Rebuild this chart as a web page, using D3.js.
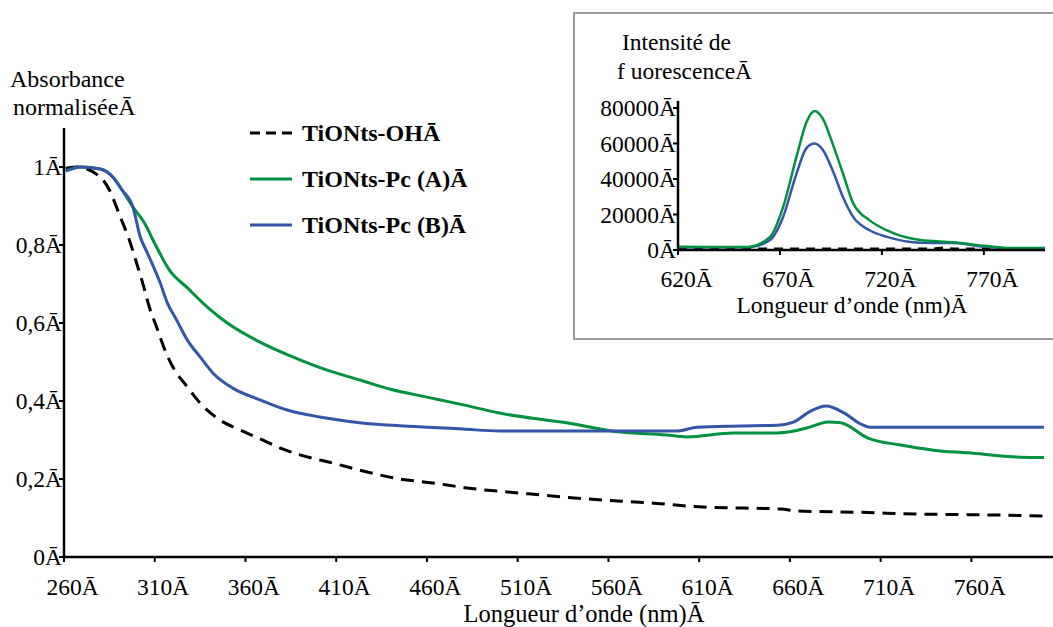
<!DOCTYPE html>
<html>
<head>
<meta charset="utf-8">
<script src="https://cdn.jsdelivr.net/npm/d3@7"></script>
<style>
  body { margin: 0; background: #fff; }
</style>
</head>
<body>
<svg width="1053" height="627"></svg>
<script>
// main chart: normalised absorbance
var xTicks = [260, 310, 360, 410, 460, 510, 560, 610, 660, 710, 760]
var yTicks = [0, 0.2, 0.4, 0.6, 0.8, 1]
var yTickLabels = ["0", "0,2", "0,4", "0,6", "0,8", "1"]

var ohNm  = [261, 267, 280, 285, 291, 296, 300, 304, 307, 311, 315, 320, 328, 335, 346, 357, 368, 380, 390, 408, 427, 445, 463, 482, 511, 548, 585, 612, 655, 664, 695, 732, 769, 800]
var ohAbs = [0.997, 1.0, 0.974, 0.941, 0.872, 0.813, 0.754, 0.692, 0.641, 0.59, 0.538, 0.487, 0.436, 0.395, 0.351, 0.326, 0.303, 0.278, 0.262, 0.241, 0.218, 0.2, 0.19, 0.177, 0.164, 0.149, 0.138, 0.128, 0.123, 0.118, 0.115, 0.11, 0.108, 0.105]

var pcANm  = [261, 269, 280, 287, 292, 298, 304, 311, 318, 328, 339, 350, 368, 386, 405, 423, 440, 460, 480, 500, 537, 565, 592, 603, 629, 653, 660, 671, 681, 688, 703, 721, 739, 758, 787, 800]
var pcAAbs = [0.99, 1.0, 0.995, 0.974, 0.941, 0.897, 0.859, 0.795, 0.736, 0.69, 0.641, 0.6, 0.551, 0.513, 0.479, 0.454, 0.43, 0.41, 0.39, 0.369, 0.344, 0.321, 0.313, 0.308, 0.318, 0.318, 0.321, 0.333, 0.346, 0.344, 0.305, 0.287, 0.274, 0.267, 0.256, 0.255]

var pcBNm  = [261, 269, 280, 287, 292, 298, 302, 306, 313, 317, 322, 328, 335, 342, 353, 368, 383, 401, 423, 460, 480, 500, 598, 609, 633, 653, 662, 671, 680, 690, 699, 704, 787, 800]
var pcBAbs = [0.99, 1.0, 0.995, 0.974, 0.941, 0.897, 0.821, 0.779, 0.703, 0.651, 0.608, 0.556, 0.513, 0.472, 0.433, 0.403, 0.377, 0.359, 0.344, 0.333, 0.328, 0.323, 0.323, 0.333, 0.336, 0.338, 0.346, 0.373, 0.387, 0.369, 0.341, 0.333, 0.333, 0.333]

var legendNames = ["TiONts-OH", "TiONts-Pc (A)", "TiONts-Pc (B)"]

// inset: fluorescence
var inXTicks = [620, 670, 720, 770]
var inYTicks = [0, 20000, 40000, 60000, 80000]
var flNm   = [620, 654, 665, 671.5, 678, 683, 687, 691, 696, 701, 706, 714, 722.5, 739, 755, 771.5, 783, 800]
var flA    = [1800, 1700, 7200, 24000, 52000, 72000, 78300, 74000, 59400, 42800, 26100, 16700, 11100, 5600, 4400, 2200, 1100, 1100]
var flB    = [1600, 1500, 5500, 18500, 42600, 57400, 60000, 56500, 44400, 29600, 18500, 11100, 7400, 4100, 3900, 1700, 1000, 1000]
var flOHNm = [620, 700, 745, 750, 755, 800]
var flOH   = [700, 700, 700, 1200, 700, 700]

var green = "#00923f", blue = "#3356a6"
var serif = "'Liberation Serif'"

var svg = d3.select("svg")

function label(g, xp, yp, size, str) {
    return g.append("text")
        .attr("x", xp).attr("y", yp)
        .style("font-family", serif)
        .style("font-size", size + "px")
        .text(str)
}

// ---------- main chart ----------
var x = d3.scaleLinear().domain([260, 805]).range([64, 1053])
var y = d3.scaleLinear().domain([0, 1]).range([557, 167])

var line = d3.line()
    .x(d => x(d[0]))
    .y(d => y(d[1]))
    .curve(d3.curveMonotoneX)

svg.append("path")
    .attr("d", line(d3.zip(ohNm, ohAbs)))
    .attr("fill", "none").attr("stroke", "#000").attr("stroke-width", 3)
    .attr("stroke-dasharray", "13,8")
svg.append("path")
    .attr("d", line(d3.zip(pcANm, pcAAbs)))
    .attr("fill", "none").attr("stroke", green).attr("stroke-width", 3)
svg.append("path")
    .attr("d", line(d3.zip(pcBNm, pcBAbs)))
    .attr("fill", "none").attr("stroke", blue).attr("stroke-width", 3)

// axes
svg.append("line")
    .attr("x1", x(260)).attr("x2", 1053)
    .attr("y1", y(0)).attr("y2", y(0))
    .attr("stroke", "#000").attr("stroke-width", 2.5)
svg.append("line")
    .attr("x1", x(260)).attr("x2", x(260))
    .attr("y1", y(1.1)).attr("y2", y(0))
    .attr("stroke", "#000").attr("stroke-width", 2.5)

// x ticks: number centred on tick, the stray glyph trailing
function numLabels(g, ticks, px, yPos, size) {
    ticks.forEach(function(t) {
        g.append("line")
            .attr("x1", px(t)).attr("x2", px(t))
            .attr("y1", yPos.axis).attr("y2", yPos.axis + 5)
            .attr("stroke", "#000").attr("stroke-width", 2)
        var txt = label(g, 0, yPos.label, size, null)
        var num = txt.append("tspan").text(t)
        txt.append("tspan").text("Ā")
        var w = num.node().getComputedTextLength()
        txt.attr("x", px(t) - w / 2)
    })
}
var gMain = svg.append("g")
numLabels(gMain, xTicks, x, {axis: y(0), label: 595}, 23.5)

yTicks.forEach(function(t, i) {
    gMain.append("line")
        .attr("x1", x(260) - 5).attr("x2", x(260))
        .attr("y1", y(t)).attr("y2", y(t))
        .attr("stroke", "#000").attr("stroke-width", 2)
    label(gMain, 62, y(t) + 8, 23.5, yTickLabels[i] + "Ā")
        .attr("text-anchor", "end")
})

label(svg, 10, 87, 24, "Absorbance")
label(svg, 13, 115, 24, "normaliséeĀ")
label(svg, 584, 622, 24.5, "Longueur d’onde (nm)Ā").attr("text-anchor", "middle")

// legend
var legend = svg.selectAll(".legend")
    .data(legendNames)
    .enter().append("g")
    .attr("class", "legend")
    .attr("transform", (d, i) => "translate(250," + (133 + i * 46) + ")")
legend.append("line")
    .attr("x1", 0).attr("x2", 42)
    .attr("stroke", (d, i) => ["#000", green, blue][i])
    .attr("stroke-width", 3)
    .attr("stroke-dasharray", (d, i) => i == 0 ? "10,6" : null)
legend.append("text")
    .attr("x", 52).attr("y", 8)
    .style("font-family", serif)
    .style("font-size", "24px")
    .style("font-weight", "bold")
    .text(d => d + "Ā")

// ---------- inset ----------
svg.append("rect")
    .attr("x", 574).attr("y", 13)
    .attr("width", 482).attr("height", 326)
    .attr("fill", "#fff").attr("stroke", "#9a9a9a").attr("stroke-width", 2)

var ix = d3.scaleLinear().domain([620, 800]).range([678, 1045])
var iy = d3.scaleLinear().domain([0, 80000]).range([250, 108])

var iline = d3.line()
    .x(d => ix(d[0]))
    .y(d => iy(d[1]))
    .curve(d3.curveMonotoneX)

svg.append("path")
    .attr("d", iline(d3.zip(flOHNm, flOH)))
    .attr("fill", "none").attr("stroke", "#000").attr("stroke-width", 2.5)
    .attr("stroke-dasharray", "9,7")
svg.append("path")
    .attr("d", iline(d3.zip(flNm, flB)))
    .attr("fill", "none").attr("stroke", blue).attr("stroke-width", 2.5)
svg.append("path")
    .attr("d", iline(d3.zip(flNm, flA)))
    .attr("fill", "none").attr("stroke", green).attr("stroke-width", 2.5)

svg.append("line")
    .attr("x1", ix(620)).attr("x2", ix(800))
    .attr("y1", iy(0)).attr("y2", iy(0))
    .attr("stroke", "#000").attr("stroke-width", 2.5)
svg.append("line")
    .attr("x1", ix(620)).attr("x2", ix(620))
    .attr("y1", iy(84000)).attr("y2", iy(0))
    .attr("stroke", "#000").attr("stroke-width", 2.5)

var gIn = svg.append("g")
numLabels(gIn, inXTicks, ix, {axis: iy(0), label: 287}, 23.5)
inYTicks.forEach(function(t) {
    gIn.append("line")
        .attr("x1", ix(620) - 5).attr("x2", ix(620))
        .attr("y1", iy(t)).attr("y2", iy(t))
        .attr("stroke", "#000").attr("stroke-width", 2)
    label(gIn, 676, iy(t) + 8, 23.5, t + "Ā").attr("text-anchor", "end")
})

label(svg, 622, 50, 23.5, "Intensité de")
label(svg, 617, 79, 23.5, "f uorescenceĀ")
label(svg, 852, 313, 23.5, "Longueur d’onde (nm)Ā").attr("text-anchor", "middle")
</script>
</body>
</html>
